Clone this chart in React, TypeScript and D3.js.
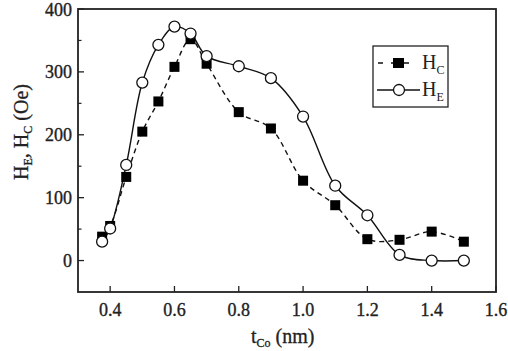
import React from "react";
import * as d3 from "d3";

// thickness of the Co layer (nm)
const tCo = [0.375, 0.4, 0.45, 0.5, 0.55, 0.6, 0.65, 0.7, 0.8, 0.9, 1.0, 1.1, 1.2, 1.3, 1.4, 1.5];
// coercivity H_C (Oe)
const hc = [38, 55, 133, 205, 253, 308, 352, 313, 236, 210, 127, 88, 34, 33, 46, 30];
// exchange bias H_E (Oe)
const he = [30, 51, 152, 283, 343, 372, 361, 325, 309, 290, 229, 119, 72, 9, 0, 0];

const xTicks = [0.4, 0.6, 0.8, 1.0, 1.2, 1.4, 1.6];
const yTicks = [0, 100, 200, 300, 400];
const yMinor = [50, 150, 250, 350];

const W = 508;
const H = 351;
const margin = { top: 9, right: 12, bottom: 59, left: 78 };
const FONT = "'Liberation Serif', serif";

export default function App() {
  const x = d3.scaleLinear().domain([0.3, 1.6]).range([margin.left, W - margin.right]);
  const y = d3.scaleLinear().domain([-50, 400]).range([H - margin.bottom, margin.top]);

  const hcPts = tCo.map((t, i) => [t, hc[i]] as [number, number]);
  const hePts = tCo.map((t, i) => [t, he[i]] as [number, number]);

  const hcLine = d3
    .line<[number, number]>()
    .x((d) => x(d[0]))
    .y((d) => y(d[1]))
    .curve(d3.curveCatmullRom.alpha(0.5));
  const heLine = d3
    .line<[number, number]>()
    .x((d) => x(d[0]))
    .y((d) => y(d[1]))
    .curve(d3.curveCatmullRom.alpha(0.5));

  const x0 = margin.left;
  const x1 = W - margin.right;
  const y0 = margin.top;
  const y1 = H - margin.bottom;
  const sq = 10;
  const txt = { fontFamily: FONT };

  // legend box
  const lg = { x: 373, y: 46, w: 75, h: 61 };

  return (
    <svg width={W} height={H} style={{ position: "absolute", left: 0, top: 0, background: "#fff" }}>
      {/* frame */}
      <rect x={x0} y={y0} width={x1 - x0} height={y1 - y0} fill="none" stroke="#222" strokeWidth={1.8} />

      {/* x ticks */}
      {xTicks.map((t) => (
        <g key={"x" + t}>
          <line x1={x(t)} x2={x(t)} y1={y1} y2={y1 - 6} stroke="#222" strokeWidth={1.3} />
          <text x={x(t)} y={y1 + 24} textAnchor="middle" fontSize={18} fill="#222" stroke="#222" strokeWidth={0.35} style={txt}>
            {t.toFixed(1)}
          </text>
        </g>
      ))}

      {/* y ticks */}
      {yTicks.map((t) => (
        <g key={"y" + t}>
          <line x1={x0} x2={x0 + 6} y1={y(t)} y2={y(t)} stroke="#222" strokeWidth={1.3} />
          <text x={x0 - 6} y={y(t) + 6.5} textAnchor="end" fontSize={18} fill="#222" stroke="#222" strokeWidth={0.35} style={txt}>
            {t}
          </text>
        </g>
      ))}
      {yMinor.map((t) => (
        <line key={"m" + t} x1={x0} x2={x0 + 3.5} y1={y(t)} y2={y(t)} stroke="#222" strokeWidth={1.2} />
      ))}

      {/* axis titles */}
      <text x={251} y={343} fontSize={20} fill="#222" stroke="#222" strokeWidth={0.3} style={txt}>
        t
        <tspan fontSize={12} dy={4}>Co</tspan>
        <tspan dy={-4}> (nm)</tspan>
      </text>
      <text transform={`translate(28, 132) rotate(-90)`} textAnchor="middle" fontSize={20} fill="#222" stroke="#222" strokeWidth={0.3} style={txt}>
        H<tspan fontSize={12} dy={4}>E</tspan>
        <tspan dy={-4}>, H</tspan>
        <tspan fontSize={12} dy={4}>C</tspan>
        <tspan dy={-4}> (Oe)</tspan>
      </text>

      {/* H_C dashed with squares */}
      <path d={hcLine(hcPts) ?? ""} fill="none" stroke="#111" strokeWidth={1.4} strokeDasharray="5,4" />
      {/* H_E solid with circles */}
      <path d={heLine(hePts) ?? ""} fill="none" stroke="#111" strokeWidth={1.4} />

      {hcPts.map((d, i) => (
        <rect key={"s" + i} x={x(d[0]) - sq / 2} y={y(d[1]) - sq / 2} width={sq} height={sq} fill="#000" />
      ))}
      {hePts.map((d, i) => (
        <circle key={"c" + i} cx={x(d[0])} cy={y(d[1])} r={5.5} fill="#fff" stroke="#111" strokeWidth={1.3} />
      ))}

      {/* legend */}
      <rect x={lg.x} y={lg.y} width={lg.w} height={lg.h} fill="#fff" stroke="#222" strokeWidth={1.3} />
      <line x1={378} x2={415} y1={63} y2={63} stroke="#111" strokeWidth={1.6} strokeDasharray="5,8" />
      <rect x={398 - sq / 2} y={63 - sq / 2} width={sq + 1} height={sq} fill="#000" />
      <text x={422} y={69} fontSize={20} fill="#222" style={txt}>
        H<tspan fontSize={12} dy={5}>C</tspan>
      </text>
      <line x1={377} x2={420} y1={90} y2={90} stroke="#111" strokeWidth={1.4} />
      <circle cx={399} cy={90} r={5.5} fill="#fff" stroke="#111" strokeWidth={1.3} />
      <text x={422} y={96} fontSize={20} fill="#222" style={txt}>
        H<tspan fontSize={12} dy={5}>E</tspan>
      </text>
    </svg>
  );
}
